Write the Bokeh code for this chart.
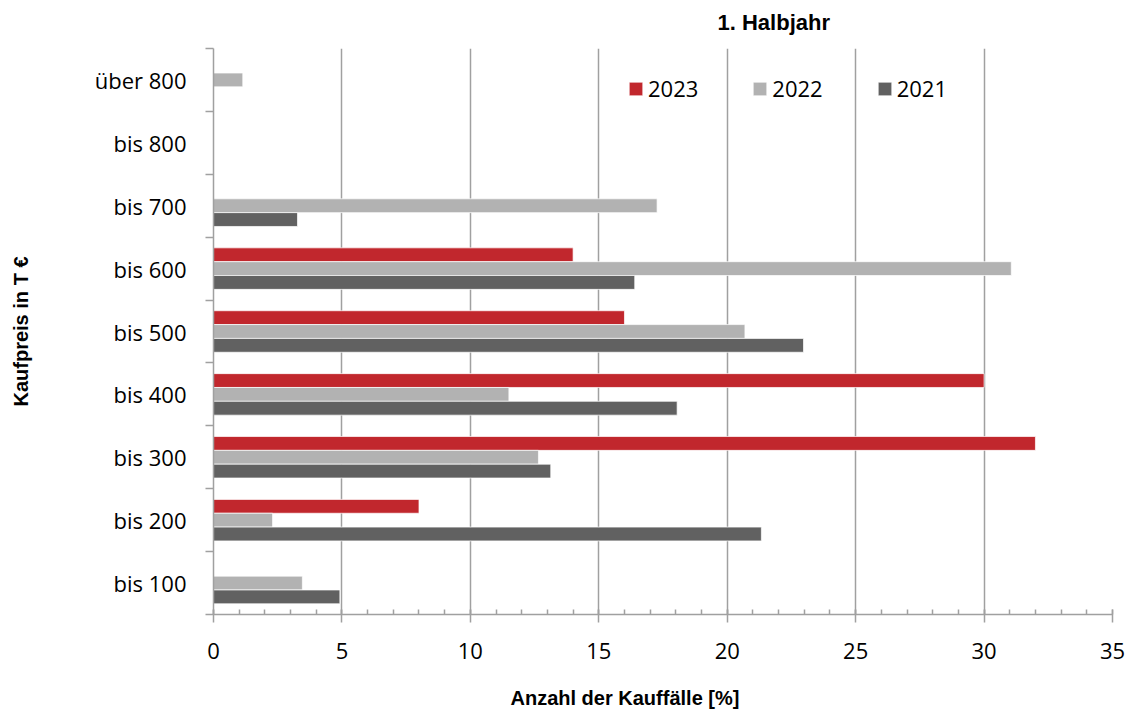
from bokeh.plotting import figure
from bokeh.models import (ColumnDataSource, FixedTicker, SingleIntervalTicker,
                          LinearAxis, Range1d, Title)
from bokeh.embed import file_html
from bokeh.resources import INLINE

# Price classes (bottom to top) and shares of purchase cases in percent
categories = ["bis 100", "bis 200", "bis 300", "bis 400", "bis 500",
              "bis 600", "bis 700", "bis 800", "über 800"]
share_2023 = [0.0, 8.0, 32.0, 30.0, 16.0, 14.0, 0.0, 0.0, 0.0]
share_2022 = [3.46, 2.30, 12.65, 11.50, 20.69, 31.06, 17.27, 0.0, 1.14]
share_2021 = [4.92, 21.33, 13.13, 18.05, 22.97, 16.40, 3.27, 0.0, 0.0]
years = ["2023", "2022", "2021"]

colors = {"2023": "#C1272D", "2022": "#B2B2B2", "2021": "#616161"}
grid_color = "#A0A0A0"
bar_h = 0.22

p = figure(width=1129, height=713, output_backend="svg", toolbar_location=None,
           x_range=Range1d(0, 35), y_range=Range1d(-0.5, len(categories) - 0.5),
           min_border_left=213, min_border_right=17, min_border_top=48,
           min_border_bottom=99)
p.outline_line_color = None
p.background_fill_color = "white"
p.border_fill_color = "white"
p.title.visible = False

series = {"2023": share_2023, "2022": share_2022, "2021": share_2021}
offsets = {"2023": bar_h, "2022": 0.0, "2021": -bar_h}
for yr in years:
    src = ColumnDataSource(dict(
        y=[i + offsets[yr] for i in range(len(categories))],
        right=series[yr]))
    p.hbar(y="y", left=0, right="right", height=bar_h, source=src,
           fill_color=colors[yr], line_color="white", line_alpha=0.7,
           line_width=1, legend_label=yr)

# x axis: major every 5, minor every 1 (inside)
xt = SingleIntervalTicker(interval=5, num_minor_ticks=5)
p.xaxis.ticker = xt
p.xgrid.ticker = xt
p.xgrid.grid_line_color = grid_color
p.xgrid.grid_line_width = 1.5
p.ygrid.visible = False
p.xaxis.axis_line_color = grid_color
p.xaxis.axis_line_width = 1.5
p.xaxis.major_tick_line_color = grid_color
p.xaxis.major_tick_line_width = 1.5
p.xaxis.major_tick_in = 5
p.xaxis.major_tick_out = 8
p.xaxis.minor_tick_line_color = grid_color
p.xaxis.minor_tick_line_width = 1.5
p.xaxis.minor_tick_in = 5
p.xaxis.minor_tick_out = 0
p.xaxis.major_label_standoff = 20
p.xaxis.major_label_text_font = "Open Sans"
p.xaxis.major_label_text_font_size = "22px"
p.xaxis.major_label_text_color = "black"

# y axis: labels at class centres, ticks on class boundaries
yt = FixedTicker(ticks=list(range(len(categories))),
                 minor_ticks=[i - 0.5 for i in range(len(categories) + 1)])
p.yaxis.ticker = yt
p.yaxis.major_label_overrides = {i: c for i, c in enumerate(categories)}
p.yaxis.axis_line_color = grid_color
p.yaxis.axis_line_width = 1.5
p.yaxis.major_tick_line_color = None
p.yaxis.major_tick_in = 0
p.yaxis.major_tick_out = 0
p.yaxis.minor_tick_line_color = grid_color
p.yaxis.minor_tick_line_width = 1.5
p.yaxis.minor_tick_in = 0
p.yaxis.minor_tick_out = 8
p.yaxis.major_label_standoff = 19
p.yaxis.major_label_text_font = "Open Sans"
p.yaxis.major_label_text_font_size = "22px"
p.yaxis.major_label_text_color = "black"

# legend
lg = p.legend[0]
lg.orientation = "horizontal"
lg.location = (414, 511)
lg.background_fill_alpha = 0
lg.border_line_color = None
lg.padding = 0
lg.margin = 0
lg.spacing = 53
lg.label_standoff = 4
lg.glyph_width = 17
lg.glyph_height = 17
lg.label_text_font = "Open Sans"
lg.label_text_font_size = "22px"
lg.label_text_color = "black"


def heading(text, offset, size, pad_side, pad):
    t = Title(text=text, align="left", offset=offset,
              text_font="Liberation Sans", text_font_style="bold",
              text_font_size=size, text_color="black", standoff=0)
    # extra room on the frame side pushes the heading outwards
    try:
        t.padding = {"left": 0, "right": 0, "top": 0, "bottom": 0, pad_side: pad}
    except Exception:
        t.standoff = pad
    return t


# headings
p.add_layout(heading("1. Halbjahr", 504, "22px", "bottom", 14), "above")
p.add_layout(heading("Anzahl der Kauffälle [%]", 297, "20px", "top", 23), "below")

# vertical heading carried by a tick-less axis left of the price classes
p.add_layout(LinearAxis(ticker=FixedTicker(ticks=[]), axis_label="Kaufpreis in T €",
                        axis_label_standoff=60,
                        axis_label_text_font="Liberation Sans",
                        axis_label_text_font_style="bold",
                        axis_label_text_font_size="20px",
                        axis_label_text_color="black",
                        major_tick_out=0, major_tick_in=0, minor_tick_out=0,
                        major_label_standoff=0, axis_line_color=None,
                        major_tick_line_color=None, minor_tick_line_color=None),
             "left")

open("out.html", "w").write(file_html(p, INLINE))
